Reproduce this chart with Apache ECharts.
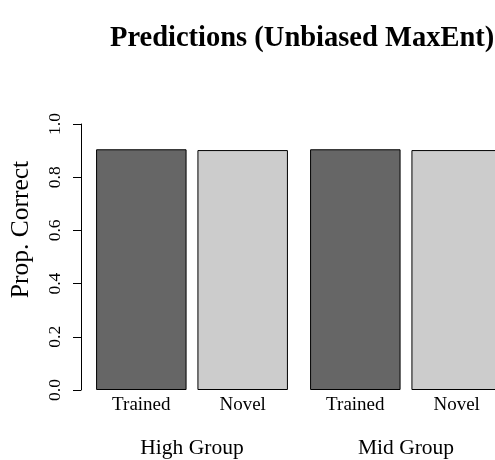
<!DOCTYPE html>
<html>
<head>
<meta charset="utf-8">
<script src="https://cdn.jsdelivr.net/npm/echarts@6/dist/echarts.min.js"></script>
<style>html,body{margin:0;padding:0;background:#fff;overflow:hidden}#c{width:520px;height:460px}</style>
</head>
<body>
<div id="c"></div>
<script>
const groups = ['High Group', 'Mid Group'];
const conditions = ['Trained', 'Novel'];
const trainedValues = [0.905, 0.905];
const novelValues = [0.902, 0.902];
const yTicks = [0.0, 0.2, 0.4, 0.6, 0.8, 1.0];
const titleText = 'Predictions (Unbiased MaxEnt)';
const yName = 'Prop. Correct';

const FONT = '"Liberation Serif", "Times New Roman", serif';
const chart = echarts.init(document.getElementById('c'), null, {renderer: 'canvas'});
const barLabel = {
  show: true, position: 'bottom', distance: 6, formatter: '{a}',
  fontFamily: FONT, fontSize: 19, color: '#000'
};
chart.setOption({
  animation: false,
  backgroundColor: '#fff',
  title: {
    text: titleText, left: 105, top: 19,
    textStyle: {fontFamily: FONT, fontSize: 28.5, fontWeight: 'bold', color: '#000'}
  },
  grid: {left: 85, right: 7, top: 124, bottom: 70, containLabel: false},
  xAxis: {
    type: 'category', data: groups,
    axisLine: {show: false}, axisTick: {show: false},
    axisLabel: {margin: 47, fontFamily: FONT, fontSize: 21.5, color: '#000'}
  },
  yAxis: {
    type: 'value', min: yTicks[0], max: yTicks[yTicks.length - 1], interval: 0.2,
    offset: 4,
    name: yName, nameLocation: 'middle', nameRotate: 90, nameGap: 47,
    nameTextStyle: {fontFamily: FONT, fontSize: 25.5, color: '#000', padding: [0, 0, 0, 55]},
    axisLine: {show: true, lineStyle: {color: '#000', width: 1}},
    axisTick: {show: true, length: 8, lineStyle: {color: '#000'}},
    splitLine: {show: false},
    axisLabel: {
      rotate: 90, margin: 17, fontFamily: FONT, fontSize: 17.5, color: '#000',
      formatter: v => v.toFixed(1)
    }
  },
  series: [
    {name: conditions[0], type: 'bar', data: trainedValues, barWidth: 90.5, barGap: '12%',
     itemStyle: {color: '#666666', borderColor: '#000', borderWidth: 1}, label: barLabel},
    {name: conditions[1], type: 'bar', data: novelValues, barWidth: 90.5, barGap: '12%',
     itemStyle: {color: '#cccccc', borderColor: '#000', borderWidth: 1}, label: barLabel}
  ]
});
</script>
</body>
</html>
